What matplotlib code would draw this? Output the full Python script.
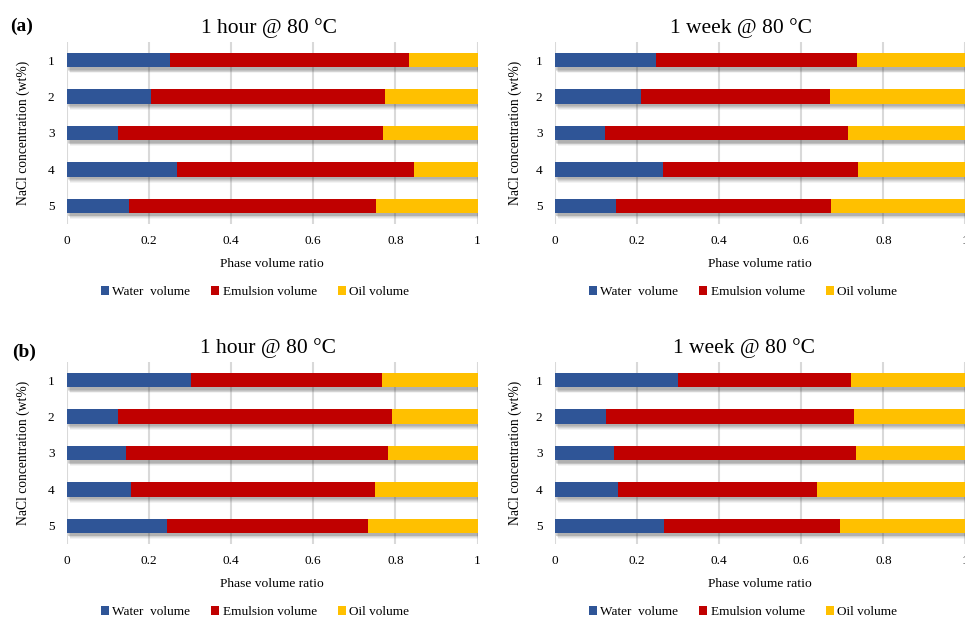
import numpy as np
import matplotlib
matplotlib.use("Agg")
import matplotlib.pyplot as plt
import matplotlib.patheffects as pe
from matplotlib.patches import Patch

plt.rcParams['font.family'] = ['Liberation Serif', 'DejaVu Serif']

# NaCl concentration (wt%) rows, phase volume ratios per panel
conc = ["1", "2", "3", "4", "5"]

water_a_hour = [0.251, 0.204, 0.125, 0.268, 0.151]
emul_a_hour = [0.582, 0.571, 0.645, 0.578, 0.601]
oil_a_hour = [0.167, 0.225, 0.230, 0.154, 0.248]

water_a_week = [0.245, 0.210, 0.123, 0.262, 0.148]
emul_a_week = [0.490, 0.459, 0.591, 0.476, 0.525]
oil_a_week = [0.265, 0.331, 0.286, 0.262, 0.327]

water_b_hour = [0.303, 0.125, 0.144, 0.157, 0.244]
emul_b_hour = [0.464, 0.666, 0.639, 0.594, 0.490]
oil_b_hour = [0.233, 0.209, 0.217, 0.249, 0.266]

water_b_week = [0.300, 0.125, 0.143, 0.154, 0.265]
emul_b_week = [0.420, 0.604, 0.591, 0.485, 0.429]
oil_b_week = [0.280, 0.271, 0.266, 0.361, 0.306]

colors = ["#2F5597", "#C00000", "#FFC000"]
labels = ["Water  volume", "Emulsion volume", "Oil volume"]
xticks = [0, 0.2, 0.4, 0.6, 0.8, 1]
xticklabels = ["0", "0.2", "0.4", "0.6", "0.8", "1"]

W, H = 965, 619
fig = plt.figure(figsize=(W / 100, H / 100), dpi=100)


def px_axes(left, top, right, bottom):
    return fig.add_axes([left / W, 1 - bottom / H, (right - left) / W, (bottom - top) / H])


# soft drop shadow: several faint offset copies stacked under the bar
shadow = [pe.SimplePatchShadow(offset=(dx, dy), shadow_rgbFace="#404040", alpha=a)
          for dx, dy, a in [(2.2, -4.2, 0.06), (1.8, -3.6, 0.08), (1.4, -3.0, 0.10),
                            (1.0, -2.4, 0.12), (0.6, -1.8, 0.12)]]
shadow.append(pe.Normal())


def stacked(ax, water, emul, oil):
    y = np.arange(1, len(conc) + 1)
    left = np.zeros(len(conc))
    for vals, c in zip([water, emul, oil], colors):
        bars = ax.barh(y, vals, left=left, height=0.4, color=c, zorder=3)
        for b in bars:
            b.set_path_effects(shadow)
        left = left + np.array(vals)
    ax.set_xlim(0, 1)
    ax.set_ylim(5.5, 0.5)
    ax.set_yticks(y)
    ax.set_yticklabels(conc, fontsize=9.5)
    ax.set_xticks(xticks)
    ax.set_xticklabels(xticklabels, fontsize=9.5)
    ax.tick_params(length=0, pad=8)
    ax.tick_params(axis='y', pad=9)
    ax.grid(axis='x', color="#d9d9d9", linewidth=1.5, zorder=0)
    for s in ax.spines.values():
        s.set_visible(False)
    ax.set_xlabel("Phase volume ratio", fontsize=9.7)
    ax.xaxis.set_label_coords(0.5, -0.22)
    ax.xaxis.label.set_va('center')
    ax.set_ylabel("NaCl concentration (wt%)", fontsize=9.8)


panels = [
    (67, 42, 477.5, 224, water_a_hour, emul_a_hour, oil_a_hour),
    (555, 42, 965.5, 224, water_a_week, emul_a_week, oil_a_week),
    (67, 362, 477.5, 544, water_b_hour, emul_b_hour, oil_b_hour),
    (555, 362, 965.5, 544, water_b_week, emul_b_week, oil_b_week),
]
ylab_x = [-0.09, -0.081, -0.09, -0.081]
for (l, t, r, b, w, e, o), yx in zip(panels, ylab_x):
    ax = px_axes(l, t, r, b)
    stacked(ax, w, e, o)
    ax.yaxis.set_label_coords(yx, 0.5)

# panel titles
titles = [(269, 28, "1 hour @ 80 °C"), (741, 28, "1 week @ 80 °C"),
          (268, 348, "1 hour @ 80 °C"), (744, 348, "1 week @ 80 °C")]
for x, y, s in titles:
    fig.text(x / W, 1 - y / H, s, fontsize=15.5, ha='center', va='center')

fig.text(22 / W, 1 - 26 / H, "(a)", fontsize=14, fontweight='bold', ha='center', va='center')
fig.text(24 / W, 1 - 352 / H, "(b)", fontsize=14, fontweight='bold', ha='center', va='center')

# legends below each panel
handles = [Patch(facecolor=c, edgecolor='none') for c in colors]
for x, y in [(255, 292), (743, 292), (255, 612), (743, 612)]:
    fig.legend(handles, labels, loc='center', bbox_to_anchor=(x / W, 1 - y / H), ncol=3,
               frameon=False, fontsize=9.5, handlelength=0.6, handleheight=0.6,
               handletextpad=0.25, columnspacing=1.6, borderaxespad=0)

fig.savefig("out.png", dpi=100)
